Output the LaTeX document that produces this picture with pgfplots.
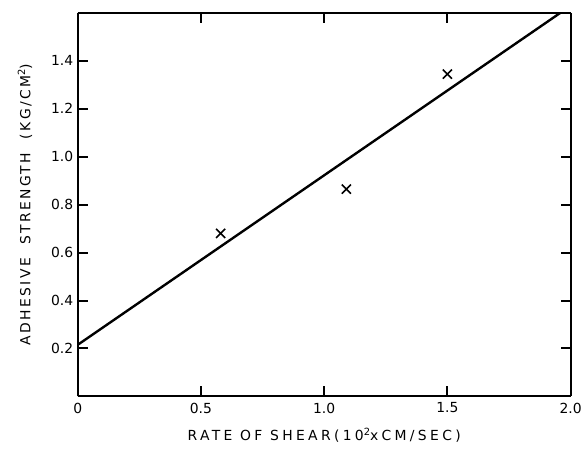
\documentclass[border=0pt]{standalone}
\usepackage{fontspec}
\setmainfont{DejaVu Sans}
\newfontfamily\xlblfont[LetterSpace=24]{DejaVu Sans}
\newfontfamily\ylblfont[LetterSpace=17]{DejaVu Sans}
\usepackage{pgfplots}
\pgfplotsset{compat=1.18}
\begin{document}
\begin{tikzpicture}
\begin{axis}[
  scale only axis,
  width=495bp, height=385bp,
  xmin=0, xmax=2.0, ymin=0, ymax=1.6,
  separate axis lines,
  axis line style={line width=2pt, black},
  xtick={0,0.5,1.0,1.5,2.0},
  xticklabels={0,0.5,1.0,1.5,2.0},
  ytick={0.2,0.4,0.6,0.8,1.0,1.2,1.4},
  yticklabels={0.2,0.4,0.6,0.8,1.0,1.2,1.4},
  tick align=inside,
  major tick length=10bp,
  xtick style={black, line width=2pt},
  ytick style={black, line width=2pt},
  ticklabel style={font=\fontsize{14}{16}\selectfont},
  /pgf/number format/assume math mode=true,
  xticklabel style={yshift=-3bp},
  yticklabel style={xshift=-1bp},
  xlabel={\xlblfont\fontsize{14}{16}\selectfont RATE OF SHEAR(10\raisebox{0.7ex}{\fontsize{10}{11}\selectfont 2}xCM/SEC)},
  ylabel={\ylblfont\fontsize{14}{16}\selectfont ADHESIVE\ \ STRENGTH\ \ (KG/CM\raisebox{0.7ex}{\fontsize{10}{11}\selectfont 2})},
  xlabel style={yshift=-8bp},
  ylabel style={yshift=12bp},
  clip=true,
]
\addplot[black, line width=2.4pt] coordinates {(0,0.215) (2.0,1.63)};
\addplot[only marks, mark=x, mark size=6.5pt, mark options={line width=1.6pt}, black] coordinates {
  (0.58,0.68) (1.09,0.865) (1.50,1.345)
};
\end{axis}
\path (current axis.south west) ++(-78bp,-68bp) coordinate (bl);
\path (current axis.north east) ++(12bp,13bp) coordinate (tr);
\useasboundingbox (bl) rectangle (tr);
\end{tikzpicture}
\end{document}
